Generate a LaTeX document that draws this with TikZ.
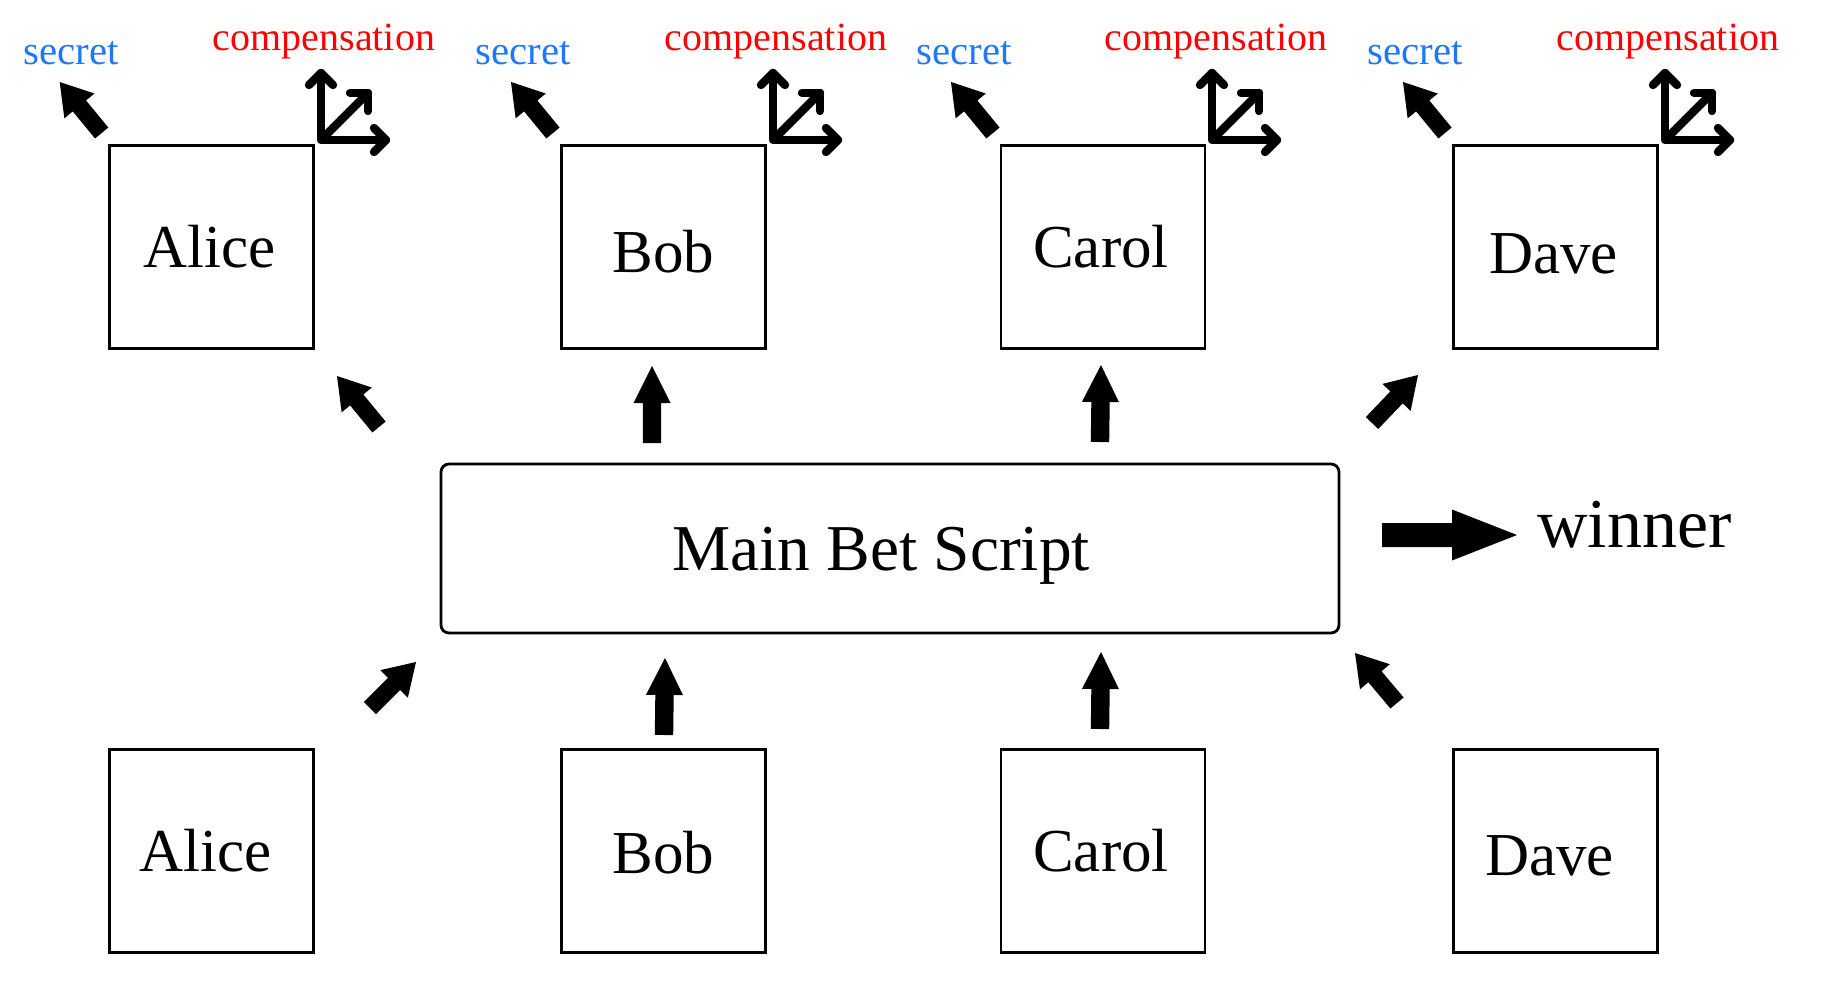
\documentclass[tikz,border=0pt]{standalone}
\usepackage{fontspec}
\setmainfont{Liberation Serif}
\usetikzlibrary{calc}
\definecolor{secretblue}{RGB}{30,120,255}
\definecolor{compred}{RGB}{255,0,0}
% filled block arrow: tail, tip, shaft half width, head half width, head length
\newcommand\blockarrow[5]{%
  \coordinate (bahead) at ($(#2)!#5!(#1)$);
  \fill ($(#1)!#3!90:(#2)$) -- ($(bahead)!#3!90:(#2)$) -- ($(bahead)!#4!90:(#2)$)
     -- (#2) -- ($(bahead)!#4!-90:(#2)$) -- ($(bahead)!#3!-90:(#2)$)
     -- ($(#1)!#3!-90:(#2)$) -- cycle;}
\newcommand\vertarrow[2]{\blockarrow{#1}{#2}{4.6pt}{9.25pt}{18.5pt}}
\newcommand\diagarrow[2]{\blockarrow{#1}{#2}{4.3pt}{9.75pt}{15.5pt}}
\begin{document}
\begin{tikzpicture}[x=0.5pt,y=-0.5pt,
  person/.style={draw,line width=1.3pt,minimum width=102pt,minimum height=101.5pt,
    inner sep=0pt,font=\fontsize{30.5pt}{36pt}\selectfont,text height=20.2pt,text depth=0pt},
  mainbox/.style={draw,line width=1.4pt,rounded corners=4pt,minimum width=449pt,
    minimum height=84.5pt,inner sep=0pt,font=\fontsize{32.7pt}{38pt}\selectfont,
    text height=21.6pt,text depth=0pt},
  wintext/.style={inner sep=0pt,font=\fontsize{35pt}{40pt}\selectfont},
  secrettext/.style={inner sep=0pt,text=secretblue,font=\fontsize{20.4pt}{24pt}\selectfont},
  comptext/.style={inner sep=0pt,text=compred,font=\fontsize{20pt}{24pt}\selectfont},
  compline/.style={line width=4.2pt,line cap=round,line join=round},
  compglyph/.pic={
    \draw[compline] (0,-67) -- (0,0) -- (65,0);
    \draw[compline] (-12,-55) -- (0,-67) -- (12,-55);
    \draw[compline] (53,-12) -- (65,0) -- (53,12);
    \draw[compline] (3,-3) -- (47,-47);
    \draw[compline] (29,-47) -- (47,-47) -- (47,-29);
  }]
\useasboundingbox (0,0) rectangle (1822,986);

% player boxes
\node[person] (aliceT) at (211.6,247) {Alice\hspace*{2.5pt}};
\node[person] (bobT)   at (663.3,247) {\raisebox{-2.5pt}{Bob}};
\node[person] (carolT) at (1103,247) {Carol\hspace*{2pt}};
\node[person] (daveT)  at (1555.4,247) {\raisebox{-3pt}{Dave}\hspace*{2pt}};
\node[person] (aliceB) at (211.6,851) {Alice\hspace*{6pt}};
\node[person] (bobB)   at (663.3,851) {\raisebox{-1pt}{Bob}};
\node[person] (carolB) at (1103,851) {Carol\hspace*{2pt}};
\node[person] (daveB)  at (1555.4,851) {\raisebox{-2pt}{Dave}\hspace*{6pt}};

% main script
\node[mainbox] (main) at (890,548.5) {Main Bet Script\hspace*{9pt}};
\node[wintext,anchor=base west] (winner) at (1537,547) {winner};

% labels
\node[secrettext,anchor=base] (secA) at (71,64) {secret};
\node[secrettext,anchor=base] (secB) at (523,64) {secret};
\node[secrettext,anchor=base] (secC) at (964,64) {secret};
\node[secrettext,anchor=base] (secD) at (1415,64) {secret};
\node[comptext,anchor=base] (compA) at (324,50) {compensation};
\node[comptext,anchor=base] (compB) at (776,50) {compensation};
\node[comptext,anchor=base] (compC) at (1216,50) {compensation};
\node[comptext,anchor=base] (compD) at (1668,50) {compensation};

% compensation glyphs
\pic at (321,140) {compglyph};
\pic at (773,140) {compglyph};
\pic at (1212,140) {compglyph};
\pic at (1665,140) {compglyph};

% arrow end points
\coordinate (sAt) at (101.7,133); \coordinate (sAh) at (59.7,82);
\coordinate (sBt) at (553,133);   \coordinate (sBh) at (511,82);
\coordinate (sCt) at (993,133);   \coordinate (sCh) at (951,82);
\coordinate (sDt) at (1445,133);  \coordinate (sDh) at (1403,82);

\coordinate (oAt) at (379,427);  \coordinate (oAh) at (337,376);
\coordinate (oBt) at (652,443);  \coordinate (oBh) at (652,366);
\coordinate (oCt) at (1100,442); \coordinate (oCh) at (1101,365);
\coordinate (oDt) at (1372,423); \coordinate (oDh) at (1418,375);

\coordinate (iAt) at (370,708);  \coordinate (iAh) at (416,662);
\coordinate (iBt) at (664,735);  \coordinate (iBh) at (665,658);
\coordinate (iCt) at (1100,729); \coordinate (iCh) at (1101,652);
\coordinate (iDt) at (1397,703); \coordinate (iDh) at (1355,653);

\coordinate (wt) at (1382,535);  \coordinate (wh) at (1517,535);

% arrows
\diagarrow{sAt}{sAh}
\diagarrow{sBt}{sBh}
\diagarrow{sCt}{sCh}
\diagarrow{sDt}{sDh}
\diagarrow{oAt}{oAh}
\vertarrow{oBt}{oBh}
\vertarrow{oCt}{oCh}
\diagarrow{oDt}{oDh}
\diagarrow{iAt}{iAh}
\vertarrow{iBt}{iBh}
\vertarrow{iCt}{iCh}
\diagarrow{iDt}{iDh}
\blockarrow{wt}{wh}{6pt}{12.75pt}{32.5pt}
\end{tikzpicture}
\end{document}
